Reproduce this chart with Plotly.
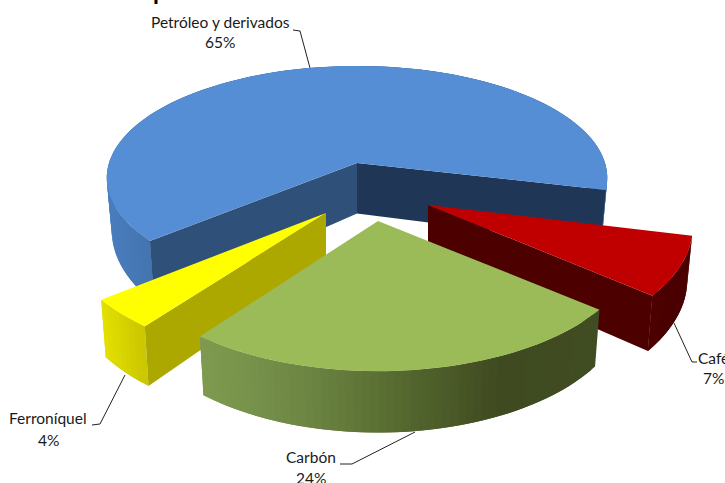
import math
import plotly.graph_objects as go

# ---- data ----
categories = ["Petróleo y derivados", "Café", "Carbón", "Ferroníquel"]
values = [65.0, 7.4, 23.8, 3.8]

# ---- styling / projection of the 3D pie ----
top_colors = ["#558ED5", "#C00000", "#9BBB59", "#FFFF00"]
centers = [(357, 163), (428, 205), (378, 221), (326, 213)]
radii = [1.0, 1.05, 1.025, 1.03]
persp_a = [110.0, 118.0, 115.0, 111.0]
persp_b = [248.0, 248.0, 244.0, 244.0]
persp_k = [0.134, 0.17, 0.21, 0.221]
depth_pow = [2.5, 1.0, 1.0, 1.0]
start_face_colors = ["#203656", "#4C0000", "#3F4A22", "#ADA800"]
end_face_colors = ["#2F5078", "#4C0000", "#3F4A22", "#ADA800"]
rim_stops = [
    [(100, "#4A7FBF"), (150, "#4474B0")],
    [(640, "#4E0000"), (700, "#480000")],
    [(200, "#7F9B50"), (300, "#6E8844"), (400, "#56692F"), (500, "#3F4A20"), (600, "#404C22")],
    [(98, "#E6E200"), (146, "#C8C400")],
]
START_DEG = -13.7
DEPTH, LOW = 50.5, 0.98


def proj(i, deg, r=None, lower=False):
    c = centers[i]
    r = radii[i] if r is None else r
    X = r * math.cos(math.radians(deg))
    Y = r * math.sin(math.radians(deg))
    s = 1.0 / (1.0 + persp_k[i] * Y)
    f = LOW if lower else 1.0
    d = DEPTH * s ** depth_pow[i] if lower else 0.0
    return c[0] + f * persp_b[i] * X * s, c[1] - f * persp_a[i] * Y * s + d


def hex_rgb(h):
    return tuple(int(h[i:i + 2], 16) for i in (1, 3, 5))


def color_at(stops, x):
    if x <= stops[0][0]:
        return stops[0][1]
    for (x0, c0), (x1, c1) in zip(stops, stops[1:]):
        if x <= x1:
            t = (x - x0) / (x1 - x0)
            a, b = hex_rgb(c0), hex_rgb(c1)
            return "rgb(%d,%d,%d)" % tuple(round(a[k] + (b[k] - a[k]) * t) for k in range(3))
    return stops[-1][1]


fig = go.Figure()


def poly(pts, color):
    xs = [p[0] for p in pts] + [pts[0][0]]
    ys = [p[1] for p in pts] + [pts[0][1]]
    fig.add_trace(go.Scatter(
        x=xs, y=ys, mode="lines", fill="toself", fillcolor=color,
        line=dict(color=color, width=0),
        hoverinfo="skip", showlegend=False))


# angular spans derived from the values: first slice runs counter-clockwise,
# the others clockwise from the same starting line
total = sum(values)
spans = []
a = START_DEG
spans.append((a, a + 360 * values[0] / total))
for v in values[1:]:
    spans.append((a, a - 360 * v / total))
    a -= 360 * v / total


def draw_slice(i):
    a0, a1 = spans[i]
    n = max(6, int(abs(a1 - a0) / 1.5))
    angs = [a0 + (a1 - a0) * j / n for j in range(n + 1)]
    # rim, painted as overlapping strips so that no seam shows
    for j in range(n):
        p, q = angs[j], angs[min(j + 2, n)]
        mx = (proj(i, angs[j])[0] + proj(i, angs[j + 1])[0]) / 2
        poly([proj(i, p), proj(i, q), proj(i, q, lower=True), proj(i, p, lower=True)],
             color_at(rim_stops[i], mx))
    # radial faces (the ones facing the viewer)
    if i == 0:
        poly([proj(i, a0, 0), proj(i, a0), proj(i, a0, lower=True), proj(i, a0, 0, lower=True)],
             start_face_colors[i])
        poly([proj(i, a1, 0), proj(i, a1), proj(i, a1, lower=True), proj(i, a1, 0, lower=True)],
             end_face_colors[i])
    elif i in (1, 3):
        e = a1 if i == 1 else a0
        poly([proj(i, e, 0), proj(i, e), proj(i, e, lower=True), proj(i, e, 0, lower=True)],
             end_face_colors[i])
    # top
    poly([proj(i, 0, 0)] + [proj(i, t) for t in angs], top_colors[i])


for i in (0, 3, 1, 2):
    draw_slice(i)

# leader lines
leaders = [
    [(293, 30), (300, 31), (310, 68)],
    [(674, 323), (692, 362), (697, 362)],
    [(415, 432), (352, 464), (340, 464)],
    [(125, 375), (100, 424), (92, 425)],
]
for pts in leaders:
    fig.add_trace(go.Scatter(
        x=[p[0] for p in pts], y=[p[1] for p in pts], mode="lines",
        line=dict(color="#222222", width=1), hoverinfo="skip", showlegend=False))

# labels: (x, y of name, y of percentage)
label_pos = [(220, 22, 42), (713, 358, 378), (311, 457, 478), (48, 418, 440)]
annotations = []
for name, v, (x, y1, y2) in zip(categories, values, label_pos):
    for txt, y in ((name, y1), (f"{round(v)}%", y2)):
        annotations.append(dict(x=x, y=y, text=txt, showarrow=False, xanchor="center",
                                yanchor="middle", font=dict(family="Lato", size=15.5, color="#1A1A1A")))
# bottom of the title, cut off by the top edge of the picture
annotations.append(dict(x=160, y=0, text="<b>p</b>", showarrow=False, xanchor="center", yanchor="bottom",
                        yshift=-7, font=dict(family="Lato", size=24, color="#000000")))

fig.update_layout(
    width=725, height=483, margin=dict(l=0, r=0, t=0, b=0),
    paper_bgcolor="white", plot_bgcolor="white", showlegend=False,
    xaxis=dict(range=[0, 725], visible=False, fixedrange=True),
    yaxis=dict(range=[483, 0], visible=False, fixedrange=True),
    annotations=annotations,
)
fig.write_html("out.html", config={"displayModeBar": False},
               post_script="document.body.style.margin='0';document.body.style.overflow='hidden';")
